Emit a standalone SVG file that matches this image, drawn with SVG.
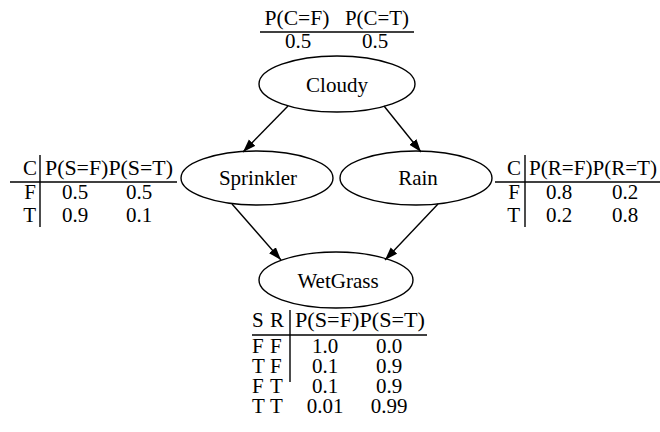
<svg xmlns="http://www.w3.org/2000/svg" width="660" height="432" viewBox="0 0 660 432">
  <style>
    .mid { text-anchor: middle; }
    .end { text-anchor: end; }
    .node ellipse { fill: #fff; stroke: #000; stroke-width: 1.4; }
    .rule { stroke: #000; stroke-width: 1.4; fill: none; }
    .edge { stroke: #000; stroke-width: 1.4; fill: none; marker-end: url(#arrow); }
  </style>
  <defs>
    <marker id="arrow" markerUnits="userSpaceOnUse" markerWidth="14" markerHeight="10" refX="13" refY="5" orient="auto">
      <path d="M0,0.5 L13,5 L0,9.5 z" fill="#000"/>
    </marker>
  </defs>
  <rect width="660" height="432" fill="#fff"/>

  <g font-family="'Liberation Serif', 'DejaVu Serif', serif" font-size="21" fill="#000">
    <!-- nodes -->
    <g id="cloudy" class="node">
      <ellipse cx="337" cy="84" rx="78" ry="28"/>
      <text class="mid" x="337" y="92">Cloudy</text>
    </g>
    <g id="sprinkler" class="node">
      <ellipse cx="257" cy="178" rx="76" ry="27"/>
      <text class="mid" x="258" y="185">Sprinkler</text>
    </g>
    <g id="rain" class="node">
      <ellipse cx="416" cy="178" rx="76" ry="27"/>
      <text class="mid" x="418" y="185">Rain</text>
    </g>
    <g id="wetgrass" class="node">
      <ellipse cx="336" cy="280" rx="77" ry="28"/>
      <text class="mid" x="338" y="288">WetGrass</text>
    </g>

    <!-- P(Cloudy) -->
    <g id="cpt-cloudy">
      <text class="mid" x="297" y="25" textLength="65" lengthAdjust="spacingAndGlyphs">P(C=F)</text>
      <text class="mid" x="377" y="25" textLength="64" lengthAdjust="spacingAndGlyphs">P(C=T)</text>
      <line class="rule" x1="260" y1="32" x2="414" y2="32"/>
      <text class="mid" x="298" y="48">0.5</text>
      <text class="mid" x="375" y="48">0.5</text>
    </g>

    <!-- P(Sprinkler | Cloudy) -->
    <g id="cpt-sprinkler">
      <text class="end" x="37" y="175">C</text>
      <text x="45" y="175" textLength="128" lengthAdjust="spacingAndGlyphs">P(S=F)P(S=T)</text>
      <line class="rule" x1="10" y1="182" x2="177" y2="182"/>
      <line class="rule" x1="40" y1="155" x2="40" y2="227"/>
      <text class="end" x="36" y="199">F</text>
      <text class="mid" x="75" y="199">0.5</text>
      <text class="mid" x="139" y="199">0.5</text>
      <text class="end" x="36" y="222">T</text>
      <text class="mid" x="75" y="222">0.9</text>
      <text class="mid" x="139" y="222">0.1</text>
    </g>

    <!-- P(Rain | Cloudy) -->
    <g id="cpt-rain">
      <text class="end" x="521" y="175">C</text>
      <text x="529" y="175" textLength="128" lengthAdjust="spacingAndGlyphs">P(R=F)P(R=T)</text>
      <line class="rule" x1="495" y1="182" x2="660" y2="182"/>
      <line class="rule" x1="525" y1="155" x2="525" y2="227"/>
      <text class="end" x="520" y="199">F</text>
      <text class="mid" x="559" y="199">0.8</text>
      <text class="mid" x="625" y="199">0.2</text>
      <text class="end" x="520" y="222">T</text>
      <text class="mid" x="559" y="222">0.2</text>
      <text class="mid" x="625" y="222">0.8</text>
    </g>

    <!-- P(WetGrass | Sprinkler, Rain) -->
    <g id="cpt-wetgrass">
      <text x="252 265 270" y="327">S R</text>
      <text x="295" y="327" textLength="130" lengthAdjust="spacingAndGlyphs">P(S=F)P(S=T)</text>
      <line class="rule" x1="252" y1="335" x2="427" y2="335"/>
      <line class="rule" x1="290" y1="310" x2="290" y2="382"/>
      <text x="252 265 270" y="353">F F</text>
      <text class="mid" x="325" y="353">1.0</text>
      <text class="mid" x="389" y="353">0.0</text>
      <text x="252 265 270" y="373">T F</text>
      <text class="mid" x="325" y="373">0.1</text>
      <text class="mid" x="389" y="373">0.9</text>
      <text x="252 265 270" y="393">F T</text>
      <text class="mid" x="325" y="393">0.1</text>
      <text class="mid" x="389" y="393">0.9</text>
      <text x="252 265 270" y="413">T T</text>
      <text class="mid" x="325" y="413">0.01</text>
      <text class="mid" x="389" y="413">0.99</text>
    </g>
  </g>

  <!-- connectors -->
  <g id="edges">
    <path class="edge" d="M288,106 L243,152"/>
    <path class="edge" d="M384,106 L421,152"/>
    <path class="edge" d="M232,204 L281,260"/>
    <path class="edge" d="M438,204 L385,260"/>
  </g>
</svg>
